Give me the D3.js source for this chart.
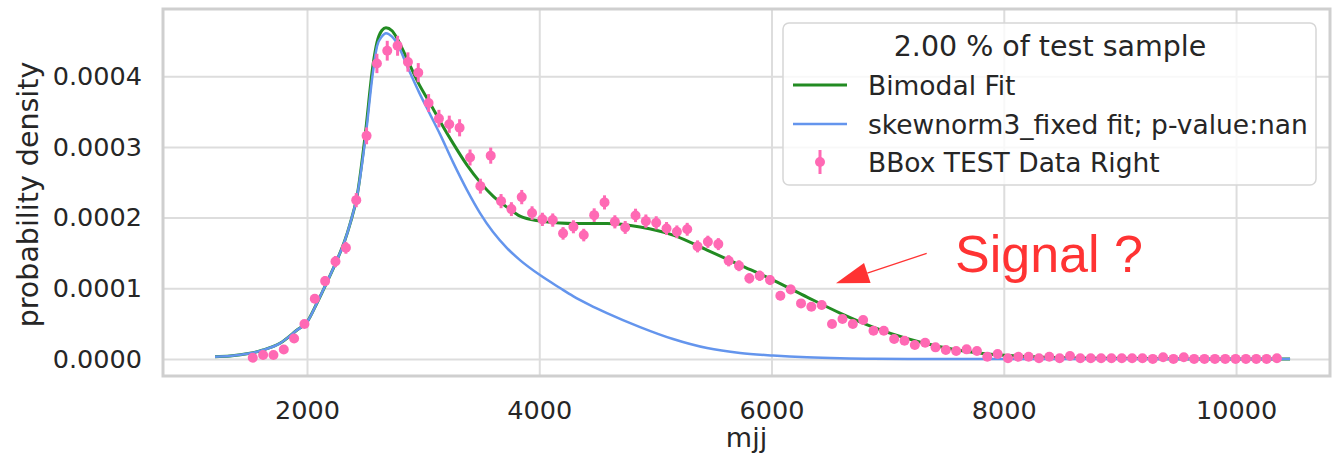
<!DOCTYPE html>
<html>
<head>
<meta charset="utf-8">
<script src="https://cdn.jsdelivr.net/npm/d3@7"></script>
<style>
html, body { margin: 0; padding: 0; background: #fff; }
svg { display: block; font-family: "DejaVu Sans", sans-serif; }
</style>
</head>
<body>
<svg id="chart" width="1335" height="462"></svg>
<script>
// binned test data (bin centres in mjj, probability density, error)
const mjjBins = [1533, 1622, 1711, 1800, 1889, 1978, 2067, 2156, 2245, 2335,
  2424, 2513, 2602, 2691, 2780, 2869, 2958, 3047, 3136, 3225,
  3314, 3404, 3493, 3582, 3671, 3760, 3849, 3938, 4027, 4116,
  4205, 4294, 4383, 4473, 4562, 4651, 4740, 4829, 4918, 5007,
  5096, 5185, 5274, 5363, 5452, 5542, 5631, 5720, 5809, 5898,
  5987, 6076, 6165, 6254, 6343, 6432, 6521, 6611, 6700, 6789,
  6878, 6967, 7056, 7145, 7234, 7323, 7412, 7501, 7590, 7680,
  7769, 7858, 7947, 8036, 8125, 8214, 8303, 8392, 8481, 8570,
  8659, 8749, 8838, 8927, 9016, 9105, 9194, 9283, 9372, 9461,
  9550, 9639, 9728, 9818, 9907, 9996, 10085, 10174, 10263, 10352];

const dataDensity = [1.8e-6, 5.7e-6, 5.7e-6, 1.34e-5, 2.9e-5, 4.95e-5, 8.52e-5, 1.102e-4, 1.378e-4, 1.573e-4,
  2.247e-4, 3.156e-4, 4.18e-4, 4.36e-4, 4.43e-4, 4.20e-4, 4.05e-4, 3.62e-4, 3.40e-4, 3.32e-4,
  3.27e-4, 2.85e-4, 2.445e-4, 2.876e-4, 2.233e-4, 2.12e-4, 2.29e-4, 2.064e-4, 1.975e-4, 1.965e-4,
  1.777e-4, 1.87e-4, 1.753e-4, 2.035e-4, 2.215e-4, 1.94e-4, 1.861e-4, 2.031e-4, 1.95e-4, 1.926e-4,
  1.847e-4, 1.799e-4, 1.835e-4, 1.593e-4, 1.658e-4, 1.625e-4, 1.389e-4, 1.319e-4, 1.141e-4, 1.177e-4,
  1.117e-4, 8.95e-5, 9.85e-5, 7.87e-5, 7.39e-5, 7.63e-5, 4.95e-5, 5.65e-5, 4.95e-5, 5.51e-5,
  4.0e-5, 4.0e-5, 2.83e-5, 2.59e-5, 1.98e-5, 2.3e-5, 1.65e-5, 1.27e-5, 1.13e-5, 1.37e-5,
  1.13e-5, 3.3e-6, 7.1e-6, 1.0e-6, 3.3e-6, 3.3e-6, 1.0e-6, 3.3e-6, 1.0e-6, 4.2e-6,
  1.0e-6, 1.0e-6, 1.0e-6, 1.0e-6, 1.0e-6, 1.0e-6, 1.0e-6, 2e-7, 2.4e-6, 2e-7,
  2.4e-6, 2e-7, 2e-7, 2e-7, 2e-7, 2e-7, 2e-7, 2e-7, 2e-7, 1.0e-6];

const dataError = [9e-7, 1.6e-6, 1.6e-6, 2.5e-6, 3.6e-6, 4.7e-6, 6.2e-6, 7.0e-6, 7.9e-6, 8.4e-6,
  1.0e-5, 1.19e-5, 1.37e-5, 1.4e-5, 1.41e-5, 1.37e-5, 1.35e-5, 1.27e-5, 1.24e-5, 1.22e-5,
  1.21e-5, 1.13e-5, 1.05e-5, 1.14e-5, 1.0e-5, 9.8e-6, 1.01e-5, 9.6e-6, 9.4e-6, 9.4e-6,
  8.9e-6, 9.2e-6, 8.9e-6, 9.6e-6, 1.0e-5, 9.3e-6, 9.1e-6, 9.5e-6, 9.4e-6, 9.3e-6,
  9.1e-6, 9.0e-6, 9.1e-6, 8.5e-6, 8.6e-6, 8.5e-6, 7.9e-6, 7.7e-6, 7.2e-6, 7.3e-6,
  7.1e-6, 6.3e-6, 6.6e-6, 5.9e-6, 5.8e-6, 5.9e-6, 4.7e-6, 5.0e-6, 4.7e-6, 5.0e-6,
  4.2e-6, 4.2e-6, 3.6e-6, 3.4e-6, 3.0e-6, 3.2e-6, 2.7e-6, 2.4e-6, 2.3e-6, 2.5e-6,
  2.3e-6, 1.2e-6, 1.8e-6, 7e-7, 1.2e-6, 1.2e-6, 7e-7, 1.2e-6, 7e-7, 1.4e-6,
  7e-7, 7e-7, 7e-7, 7e-7, 7e-7, 7e-7, 7e-7, 3e-7, 1.0e-6, 3e-7,
  1.0e-6, 3e-7, 3e-7, 3e-7, 3e-7, 3e-7, 3e-7, 3e-7, 3e-7, 7e-7];

// fitted curves, sampled
const fitMjj = [1208, 1337, 1509, 1621, 1767, 1914, 2000, 2086, 2172, 2258,
  2327, 2370, 2431, 2499, 2568, 2603, 2646, 2680, 2732, 2775,
  2870, 2964, 3059, 3145, 3257, 3378, 3490, 3602, 3722, 3834,
  4006, 4179, 4291, 4437, 4583, 4868, 5152, 5445, 5729, 6013,
  6306, 6590, 6874, 7451, 7968, 8829, 9690, 10465];

const bimodalFit = [3.3e-6, 4.2e-6, 8.1e-6, 1.27e-5, 2.22e-5, 4.10e-5, 5.23e-5, 7.92e-5, 1.088e-4, 1.399e-4,
  1.682e-4, 1.908e-4, 2.304e-4, 3.138e-4, 4.156e-4, 4.481e-4, 4.650e-4, 4.686e-4, 4.643e-4, 4.537e-4,
  4.212e-4, 3.887e-4, 3.618e-4, 3.364e-4, 3.053e-4, 2.742e-4, 2.502e-4, 2.304e-4, 2.148e-4, 2.021e-4,
  1.95e-4, 1.922e-4, 1.915e-4, 1.915e-4, 1.915e-4, 1.866e-4, 1.753e-4, 1.541e-4, 1.329e-4, 1.117e-4,
  8.76e-5, 6.50e-5, 4.52e-5, 1.74e-5, 5.7e-6, 1.0e-6, 1e-7, 0];

const skewnormFit = [3.3e-6, 4.2e-6, 8.1e-6, 1.27e-5, 2.22e-5, 4.10e-5, 5.23e-5, 7.92e-5, 1.088e-4, 1.399e-4,
  1.682e-4, 1.908e-4, 2.304e-4, 3.067e-4, 4.057e-4, 4.424e-4, 4.565e-4, 4.608e-4, 4.558e-4, 4.466e-4,
  4.113e-4, 3.774e-4, 3.463e-4, 3.180e-4, 2.784e-4, 2.389e-4, 2.064e-4, 1.795e-4, 1.569e-4, 1.399e-4,
  1.187e-4, 1.004e-4, 8.90e-5, 7.63e-5, 6.50e-5, 4.52e-5, 2.83e-5, 1.55e-5, 8.5e-6, 4.9e-6,
  2.4e-6, 1.0e-6, 3e-7, 1e-7, 0, 0, 0, 0];

const xTicks = [2000, 4000, 6000, 8000, 10000];
const yTicks = [0, 0.0001, 0.0002, 0.0003, 0.0004];
const legendTitle = "2.00 % of test sample";
const seriesNames = ["Bimodal Fit", "skewnorm3_fixed fit; p-value:nan", "BBox TEST Data Right"];
const seriesColors = ["#228b22", "#6495ed", "#ff69b4"];
const noteText = "Signal ?";
const noteAt = [7580, 1.234e-4];      // text start, data coords
const arrowTail = [7336, 1.494e-4];
const arrowTip = [6555, 1.07e-4];

const mLeft = 163, mRight = 1330, mTop = 9, mBottom = 376;
const textColor = "#262626";

const svg = d3.select("#chart");
svg.append("rect").attr("width", 1335).attr("height", 462).attr("fill", "#fff");

const x = d3.scaleLinear().domain([760, 10809]).range([mLeft, mRight]);
const y = d3.scaleLinear().domain([-0.000024, 0.000495]).range([mBottom, mTop]);

// grid + tick labels
const xAxis = svg.append("g")
  .attr("transform", "translate(0," + mBottom + ")")
  .call(d3.axisBottom(x).tickValues(xTicks).tickSize(-(mBottom - mTop)).tickPadding(25)
    .tickFormat(d3.format("d")));
const yAxis = svg.append("g")
  .attr("transform", "translate(" + mLeft + ",0)")
  .call(d3.axisLeft(y).tickValues(yTicks).tickSize(-(mRight - mLeft)).tickPadding(21)
    .tickFormat(d3.format(".4f")));
[xAxis, yAxis].forEach(g => {
  g.select(".domain").remove();
  g.attr("font-family", null).attr("font-size", null);
  g.selectAll("line").attr("stroke", "#dddddd").attr("stroke-width", 2);
  g.selectAll("text").attr("fill", textColor).style("font-size", "25.5px");
});

svg.append("rect")
  .attr("x", mLeft).attr("y", mTop)
  .attr("width", mRight - mLeft).attr("height", mBottom - mTop)
  .attr("fill", "none").attr("stroke", "#cfcfcf").attr("stroke-width", 3);

svg.append("clipPath").attr("id", "plotclip")
  .append("rect").attr("x", mLeft).attr("y", mTop)
  .attr("width", mRight - mLeft).attr("height", mBottom - mTop);

const plot = svg.append("g").attr("clip-path", "url(#plotclip)");

const line = d3.line()
  .x(d => x(d[0]))
  .y(d => y(d[1]))
  .curve(d3.curveMonotoneX);

plot.append("path")
  .datum(fitMjj.map((m, i) => [m, bimodalFit[i]]))
  .attr("d", line).attr("fill", "none")
  .attr("stroke", seriesColors[0]).attr("stroke-width", 3);

plot.append("path")
  .datum(fitMjj.map((m, i) => [m, skewnormFit[i]]))
  .attr("d", line).attr("fill", "none")
  .attr("stroke", seriesColors[1]).attr("stroke-width", 2.5);

const pts = mjjBins.map((m, i) => ({ m: m, v: dataDensity[i], e: dataError[i] }));

plot.selectAll(".ebar").data(pts).enter().append("line")
  .attr("class", "ebar")
  .attr("x1", d => x(d.m)).attr("x2", d => x(d.m))
  .attr("y1", d => y(d.v - d.e)).attr("y2", d => y(d.v + d.e))
  .attr("stroke", seriesColors[2]).attr("stroke-width", 3);

plot.selectAll(".dot").data(pts).enter().append("circle")
  .attr("class", "dot")
  .attr("cx", d => x(d.m)).attr("cy", d => y(d.v))
  .attr("r", 5).attr("fill", seriesColors[2]);

// axis titles
svg.append("text")
  .attr("x", (mLeft + mRight) / 2).attr("y", 447)
  .attr("text-anchor", "middle").attr("fill", textColor)
  .style("font-size", "27px").text("mjj");
svg.append("text")
  .attr("transform", "translate(38," + ((mTop + mBottom) / 2 + 2) + ") rotate(-90)")
  .attr("text-anchor", "middle").attr("fill", textColor)
  .style("font-size", "28.5px").text("probability density");

// legend
const lg = svg.append("g");
lg.append("rect")
  .attr("x", 783).attr("y", 23).attr("width", 533).attr("height", 162).attr("rx", 6)
  .attr("fill", "#fff").attr("fill-opacity", 0.8)
  .attr("stroke", "#d6d6d6").attr("stroke-width", 1.5);
lg.append("text")
  .attr("x", 1050).attr("y", 56).attr("text-anchor", "middle")
  .attr("fill", textColor).style("font-size", "28.5px").text(legendTitle);

const rowY = [85, 124, 162];
seriesNames.forEach((name, i) => {
  const ry = rowY[i];
  if (i < 2) {
    lg.append("line").attr("x1", 793).attr("x2", 847).attr("y1", ry).attr("y2", ry)
      .attr("stroke", seriesColors[i]).attr("stroke-width", i === 0 ? 3 : 2.5);
  } else {
    lg.append("line").attr("x1", 820).attr("x2", 820).attr("y1", ry - 12).attr("y2", ry + 12)
      .attr("stroke", seriesColors[i]).attr("stroke-width", 3);
    lg.append("circle").attr("cx", 820).attr("cy", ry).attr("r", 5).attr("fill", seriesColors[i]);
  }
  lg.append("text").attr("x", 868).attr("y", ry + 9.5)
    .attr("fill", textColor).style("font-size", "26.5px").text(name);
});

// annotation
const noteColor = "#ff3333";
const tx = x(arrowTail[0]), ty = y(arrowTail[1]);
const hx = x(arrowTip[0]), hy = y(arrowTip[1]);
const len = Math.hypot(tx - hx, ty - hy);
const ux = (tx - hx) / len, uy = (ty - hy) / len;
const headLen = 33, headHalf = 10.5;
const bx = hx + ux * headLen, by = hy + uy * headLen;
svg.append("line")
  .attr("x1", tx).attr("y1", ty).attr("x2", bx).attr("y2", by)
  .attr("stroke", noteColor).attr("stroke-width", 1.3);
svg.append("polygon")
  .attr("points", [[hx, hy], [bx - uy * headHalf, by + ux * headHalf], [bx + uy * headHalf, by - ux * headHalf]]
    .map(p => p.join(",")).join(" "))
  .attr("fill", noteColor);
svg.append("text")
  .attr("x", x(noteAt[0])).attr("y", y(noteAt[1]))
  .attr("fill", noteColor)
  .style("font-family", "'Liberation Sans', Arial, sans-serif")
  .style("font-size", "52px").text(noteText);
</script>
</body>
</html>
